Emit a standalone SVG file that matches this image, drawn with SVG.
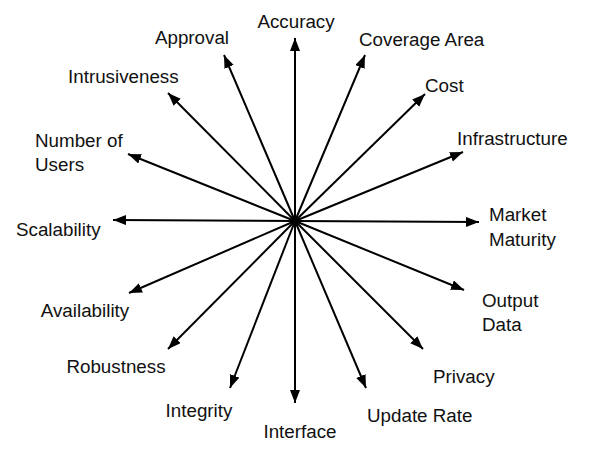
<svg xmlns="http://www.w3.org/2000/svg" width="590" height="459" viewBox="0 0 590 459">
<style>
.lbl{font-family:"Liberation Sans",Arial,sans-serif;font-size:18.8px;fill:#111}
.c line{stroke:#000;stroke-width:2;marker-end:url(#ah)}
</style>
<defs>
<marker id="ah" markerUnits="userSpaceOnUse" markerWidth="14" markerHeight="11" refX="13" refY="5" orient="auto">
<path d="M0,0 L13,5 L0,10 z" fill="#000"/>
</marker>
</defs>
<rect width="590" height="459" fill="#fff"/>
<g id="connectors" class="c">
<line x1="295" y1="221" x2="295" y2="38"/>
<line x1="295" y1="221" x2="365" y2="55"/>
<line x1="295" y1="221" x2="425" y2="94"/>
<line x1="295" y1="221" x2="463" y2="152"/>
<line x1="295" y1="221" x2="479" y2="222"/>
<line x1="295" y1="221" x2="464" y2="290"/>
<line x1="295" y1="221" x2="423" y2="349"/>
<line x1="295" y1="221" x2="366" y2="388"/>
<line x1="295" y1="221" x2="295" y2="403"/>
<line x1="295" y1="221" x2="230" y2="388"/>
<line x1="295" y1="221" x2="168" y2="349"/>
<line x1="295" y1="221" x2="129" y2="293"/>
<line x1="295" y1="221" x2="113" y2="220"/>
<line x1="295" y1="221" x2="128" y2="154"/>
<line x1="295" y1="221" x2="168" y2="93"/>
<line x1="295" y1="221" x2="224" y2="55"/>
</g>
<g id="accuracy"><text class="lbl" x="296" y="28" text-anchor="middle">Accuracy</text></g>
<g id="coverage-area"><text class="lbl" x="359" y="46">Coverage Area</text></g>
<g id="cost"><text class="lbl" x="425" y="92">Cost</text></g>
<g id="infrastructure"><text class="lbl" x="457" y="145">Infrastructure</text></g>
<g id="market-maturity"><text class="lbl" x="489" y="221">Market</text><text class="lbl" x="489" y="246">Maturity</text></g>
<g id="output-data"><text class="lbl" x="482" y="307">Output</text><text class="lbl" x="482" y="331">Data</text></g>
<g id="privacy"><text class="lbl" x="433" y="383">Privacy</text></g>
<g id="update-rate"><text class="lbl" x="367" y="422">Update Rate</text></g>
<g id="interface"><text class="lbl" x="300" y="438" text-anchor="middle">Interface</text></g>
<g id="integrity"><text class="lbl" x="199" y="417" text-anchor="middle">Integrity</text></g>
<g id="robustness"><text class="lbl" x="116" y="373" text-anchor="middle">Robustness</text></g>
<g id="availability"><text class="lbl" x="85" y="317" text-anchor="middle">Availability</text></g>
<g id="scalability"><text class="lbl" x="16" y="236">Scalability</text></g>
<g id="number-of-users"><text class="lbl" x="35" y="147">Number of</text><text class="lbl" x="35" y="171">Users</text></g>
<g id="intrusiveness"><text class="lbl" x="68" y="83">Intrusiveness</text></g>
<g id="approval"><text class="lbl" x="192" y="44" text-anchor="middle">Approval</text></g>
</svg>
